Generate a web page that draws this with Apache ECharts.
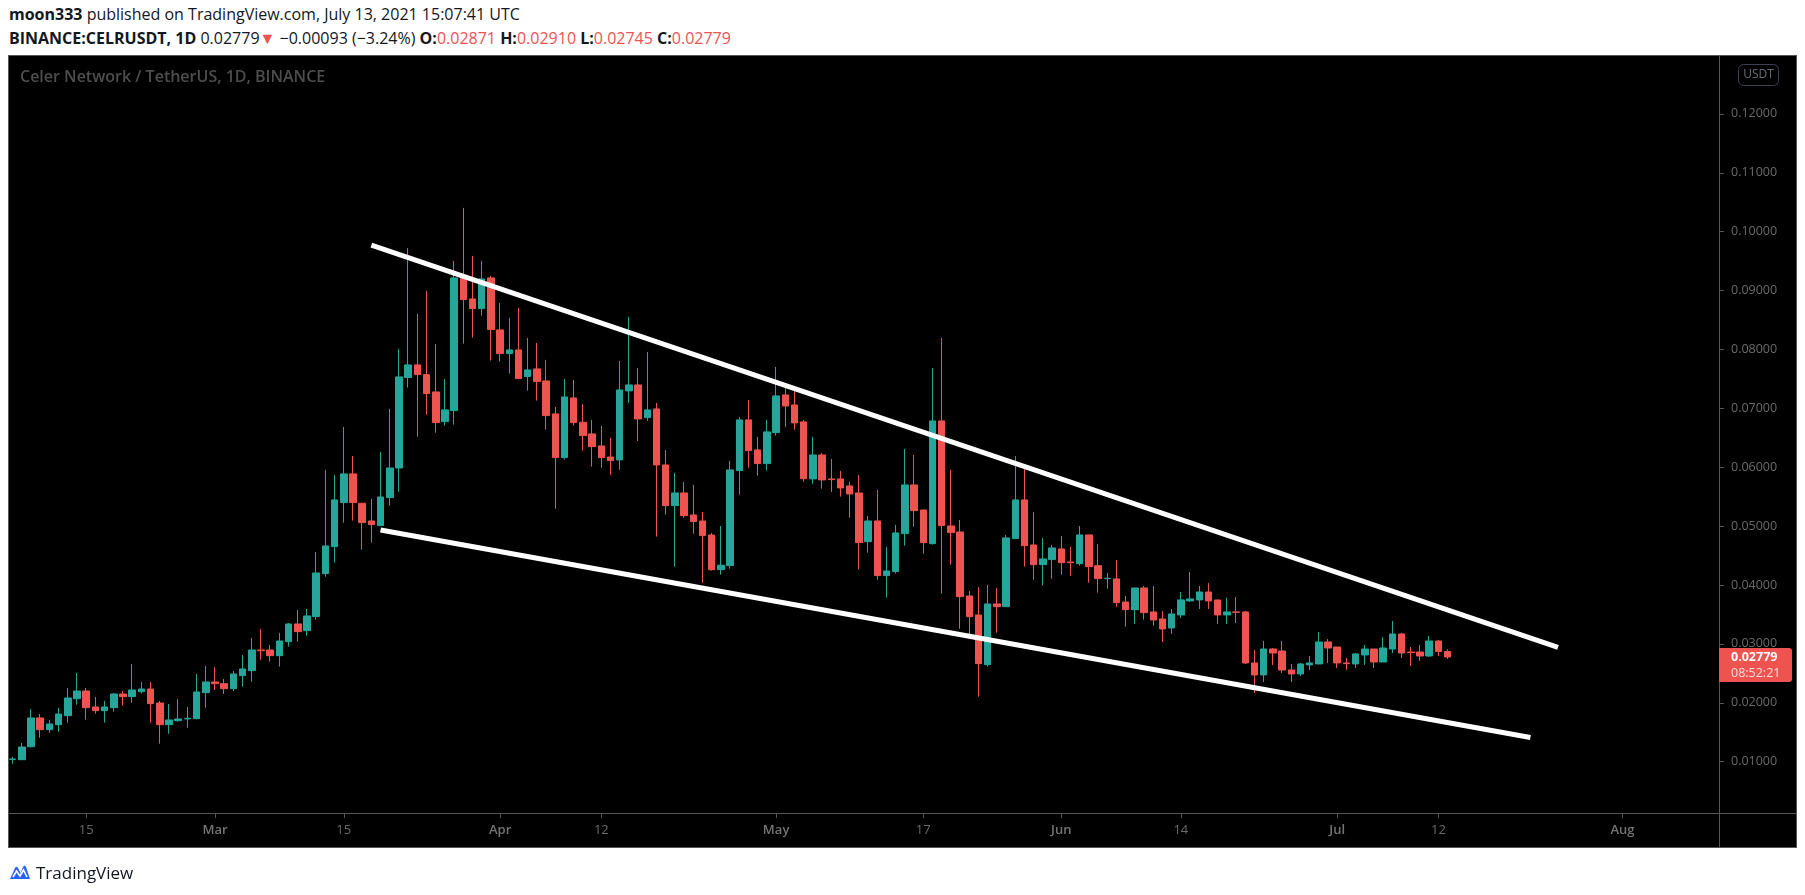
<!DOCTYPE html>
<html>
<head>
<meta charset="utf-8">
<script src="https://cdn.jsdelivr.net/npm/echarts@6/dist/echarts.min.js"></script>
<style>
  html,body{margin:0;padding:0;background:#fff;width:1805px;height:895px;overflow:hidden;}
  #panel{position:absolute;left:8px;top:55px;width:1789px;height:793px;background:#000;border:1px solid #555;box-sizing:border-box;}
  #vsep{position:absolute;left:1719px;top:55px;width:1px;height:793px;background:#555;}
  #hsep{position:absolute;left:8px;top:813px;width:1789px;height:1px;background:#555;}
  #chart{position:absolute;left:0;top:0;width:1805px;height:895px;}
  .hdr{position:absolute;left:9px;font-family:"Open Sans",sans-serif;font-size:16px;color:#131722;white-space:nowrap;line-height:20px;}
  .b{font-weight:700;}
  .r{color:#ef5350;}
  #foot{position:absolute;left:9px;top:861px;height:22px;display:flex;align-items:center;font-family:"Open Sans",sans-serif;font-size:17px;color:#131722;}
</style>
</head>
<body>
<div class="hdr" style="top:4px;"><span class="b">moon333</span> published on TradingView.com, July 13, 2021 15:07:41 UTC</div>
<div class="hdr" style="top:28px;"><span class="b">BINANCE:CELRUSDT, 1D</span> 0.02779<span class="r">▼</span> −0.00093 (−3.24%) <span class="b">O:</span><span class="r">0.02871</span> <span class="b">H:</span><span class="r">0.02910</span> <span class="b">L:</span><span class="r">0.02745</span> <span class="b">C:</span><span class="r">0.02779</span></div>
<div id="panel"></div>
<div id="vsep"></div>
<div id="hsep"></div>
<div id="chart"></div>
<div id="foot"><svg width="22" height="18" viewBox="0 0 22 18"><path d="M1 16 L6 5 Q7.5 2.5 9 5 L11.5 10 L14 4 Q15.5 1 17 4 L21 16 Z" fill="#2962ff"/><path d="M4 14 L7.5 8 L11 13 L14.5 7 L18 14" stroke="#fff" stroke-width="1.6" fill="none"/></svg><span style="margin-left:5px;">TradingView</span></div>
<script>
// ---- data ----
const startDate = '2021-02-07';
const dayCount = 186; // visible days on the time axis (Feb 7 .. Aug 11)
const tickDates = ['2021-02-15','2021-03-01','2021-03-15','2021-04-01','2021-04-12','2021-05-01','2021-05-17','2021-06-01','2021-06-14','2021-07-01','2021-07-12','2021-08-01'];
const tickLabels = ['15','Mar','15','Apr','12','May','17','Jun','14','Jul','12','Aug'];
const monthTicks = ['Mar','Apr','May','Jun','Jul','Aug'];
// daily candles from Feb 7, 2021: [open, high, low, close]
const ohlc = [
[0.01040,0.01081,0.00967,0.01046],[0.01034,0.01318,0.01030,0.01250],[0.01255,0.01895,0.01240,0.01743],[0.01743,0.01810,0.01408,0.01544],
[0.01544,0.01709,0.01493,0.01641],[0.01629,0.01912,0.01510,0.01810],[0.01782,0.02252,0.01663,0.02082],[0.02070,0.02507,0.01969,0.02201],
[0.02201,0.02252,0.01714,0.01918],[0.01929,0.02099,0.01816,0.01867],[0.01867,0.02031,0.01663,0.01929],[0.01918,0.02167,0.01850,0.02150],
[0.02150,0.02201,0.01952,0.02105],[0.02105,0.02660,0.02003,0.02218],[0.02189,0.02354,0.02156,0.02235],[0.02235,0.02354,0.01663,0.01986],
[0.01997,0.02031,0.01306,0.01629],[0.01629,0.01980,0.01476,0.01709],[0.01697,0.02065,0.01680,0.01726],[0.01726,0.01929,0.01578,0.01737],
[0.01731,0.02490,0.01720,0.02184],[0.02172,0.02626,0.01918,0.02354],
// Mar
[0.02354,0.02609,0.02218,0.02325],[0.02325,0.02405,0.02150,0.02240],[0.02240,0.02541,0.02201,0.02490],[0.02461,0.02812,0.02274,0.02575],
[0.02546,0.03101,0.02359,0.02897],[0.02897,0.03254,0.02733,0.02885],[0.02897,0.02982,0.02699,0.02801],[0.02801,0.03186,0.02614,0.03050],
[0.03039,0.03356,0.02954,0.03339],[0.03339,0.03577,0.03039,0.03209],[0.03225,0.03594,0.03140,0.03475],[0.03463,0.04562,0.03412,0.04205],
[0.04193,0.05955,0.04142,0.04664],[0.04652,0.05870,0.04380,0.05445],[0.05400,0.06685,0.05060,0.05887],[0.05887,0.06192,0.05094,0.05400],
[0.05389,0.05390,0.04601,0.05060],[0.05088,0.05462,0.04720,0.05026],[0.05009,0.06260,0.05000,0.05496],[0.05485,0.06990,0.05348,0.05988],
[0.05988,0.08010,0.05586,0.07534],[0.07523,0.09720,0.07353,0.07738],[0.07738,0.08604,0.06520,0.07573],[0.07573,0.08995,0.06894,0.07250],
[0.07279,0.08094,0.06588,0.06758],[0.06775,0.07500,0.06707,0.06974],[0.06962,0.09504,0.06724,0.09215],[0.09215,0.10404,0.08100,0.08847],
[0.08858,0.09589,0.08202,0.08694],[0.08694,0.09504,0.08575,0.09198],[0.09215,0.09249,0.07811,0.08337],
// Apr
[0.08332,0.08791,0.07794,0.07930],[0.07930,0.08536,0.07590,0.07992],[0.07992,0.08706,0.07500,0.07505],[0.07539,0.08196,0.07301,0.07653],
[0.07670,0.08111,0.07132,0.07454],[0.07466,0.07823,0.06639,0.06877],[0.06906,0.07025,0.05297,0.06164],[0.06164,0.07500,0.06130,0.07194],
[0.07177,0.07483,0.06707,0.06758],[0.06764,0.07075,0.06282,0.06537],[0.06566,0.06804,0.06011,0.06350],[0.06362,0.06702,0.05994,0.06164],
[0.06175,0.06498,0.05870,0.06113],[0.06124,0.07806,0.05955,0.07313],[0.07296,0.08553,0.07092,0.07398],[0.07398,0.07687,0.06447,0.06821],
[0.06843,0.07959,0.06787,0.06974],[0.06991,0.07092,0.04822,0.06039],[0.06039,0.06294,0.05195,0.05348],[0.05348,0.05904,0.04312,0.05564],
[0.05564,0.05751,0.05144,0.05178],[0.05190,0.05700,0.04873,0.05077],[0.05088,0.05241,0.04040,0.04839],[0.04850,0.04884,0.04244,0.04261],
[0.04261,0.05003,0.04176,0.04336],[0.04330,0.06107,0.04278,0.05955],[0.05944,0.06855,0.05535,0.06804],[0.06804,0.07143,0.05994,0.06282],
[0.06294,0.06515,0.05858,0.06062],[0.06062,0.06804,0.05944,0.06600],
// May
[0.06589,0.07704,0.06537,0.07211],[0.07228,0.07347,0.06685,0.07041],[0.07058,0.07347,0.06634,0.06753],[0.06770,0.06804,0.05756,0.05805],
[0.05802,0.06515,0.05722,0.06209],[0.06209,0.06243,0.05637,0.05785],[0.05802,0.06141,0.05581,0.05790],[0.05802,0.05937,0.05501,0.05649],
[0.05683,0.05751,0.05145,0.05547],[0.05564,0.05870,0.04262,0.04720],[0.04737,0.05173,0.04550,0.05088],[0.05088,0.05615,0.04092,0.04160],
[0.04160,0.04647,0.03786,0.04239],[0.04230,0.05020,0.04194,0.04885],[0.04873,0.06311,0.04669,0.05700],[0.05700,0.06209,0.04992,0.05263],
[0.05275,0.05275,0.04533,0.04720],[0.04703,0.07687,0.04686,0.06787],[0.06787,0.08196,0.03854,0.05009],[0.05003,0.05955,0.04346,0.04890],
[0.04901,0.05105,0.03259,0.03803],[0.03814,0.03900,0.03147,0.03463],[0.03492,0.03967,0.02104,0.02665],[0.02648,0.04001,0.02614,0.03679],
[0.03679,0.03950,0.03191,0.03633],[0.03633,0.04851,0.03633,0.04800],[0.04788,0.06192,0.04788,0.05445],[0.05445,0.05983,0.04312,0.04669],
[0.04680,0.05241,0.04092,0.04346],[0.04346,0.04800,0.03990,0.04443],[0.04432,0.04680,0.04109,0.04630],
// Jun
[0.04613,0.04834,0.04177,0.04380],[0.04392,0.04647,0.04160,0.04380],[0.04363,0.05003,0.04329,0.04851],[0.04851,0.04851,0.04040,0.04312],
[0.04329,0.04698,0.03871,0.04109],[0.04109,0.04205,0.03939,0.04115],[0.04104,0.04426,0.03633,0.03701],[0.03712,0.03815,0.03293,0.03582],
[0.03582,0.03950,0.03344,0.03950],[0.03950,0.03984,0.03412,0.03531],[0.03543,0.03984,0.03310,0.03407],[0.03424,0.03560,0.03033,0.03254],
[0.03271,0.03594,0.03169,0.03509],[0.03492,0.03882,0.03441,0.03747],[0.03730,0.04222,0.03713,0.03764],[0.03747,0.03984,0.03594,0.03882],
[0.03882,0.04035,0.03594,0.03730],[0.03747,0.03747,0.03339,0.03492],[0.03492,0.03781,0.03339,0.03543],[0.03543,0.03798,0.03356,0.03537],
[0.03543,0.03560,0.02660,0.02677],[0.02677,0.02897,0.02167,0.02473],[0.02473,0.03050,0.02354,0.02914],[0.02914,0.02931,0.02643,0.02846],
[0.02880,0.03050,0.02507,0.02558],[0.02558,0.02660,0.02354,0.02490],[0.02490,0.02677,0.02456,0.02660],[0.02643,0.02795,0.02558,0.02677],
[0.02660,0.03203,0.02660,0.03033],[0.03033,0.03084,0.02677,0.02931],
// Jul
[0.02948,0.02948,0.02592,0.02677],[0.02677,0.02762,0.02558,0.02666],[0.02660,0.02846,0.02592,0.02830],[0.02812,0.02982,0.02643,0.02914],
[0.02914,0.02914,0.02592,0.02694],[0.02694,0.03118,0.02694,0.02931],[0.02914,0.03390,0.02846,0.03169],[0.03169,0.03186,0.02762,0.02846],
[0.02863,0.02948,0.02626,0.02852],[0.02863,0.02982,0.02711,0.02795],[0.02795,0.03135,0.02779,0.03050],[0.03050,0.03067,0.02795,0.02872],
[0.02871,0.02910,0.02745,0.02779]
];
// hand-drawn trend lines: [date, price]
const upperTrend = [['2021-03-18',0.0977],['2021-07-25',0.0294]];
const lowerTrend = [['2021-03-19',0.04935],['2021-07-22',0.0141]];
const lastPrice = 0.02779;
const lastPriceText = '0.02779';
const countdownText = '08:52:21';
const yTickMin = 0, yTickMax = 0.13, yTickStep = 0.01;

// ---- build ----
const cats = [];
{
  const d0 = new Date(startDate + 'T00:00:00Z');
  for (let i = 0; i < dayCount; i++) {
    const d = new Date(d0.getTime() + i * 86400000);
    cats.push(d.toISOString().slice(0, 10));
  }
}
const labelOf = {};
tickDates.forEach((d, i) => labelOf[d] = tickLabels[i]);
const candleData = ohlc.map(r => [r[0], r[3], r[2], r[1]]);
const FONT = '"Open Sans", "Liberation Sans", sans-serif';
const AXIS_TXT = '#6a6a6a';

const chart = echarts.init(document.getElementById('chart'), null, {renderer: 'canvas'});
chart.setOption({
  animation: false,
  backgroundColor: 'transparent',
  grid: {left: 8, right: 86, top: 55, bottom: 74.4, containLabel: false},
  xAxis: {
    type: 'category', data: cats, boundaryGap: true, offset: -7.6,
    axisLine: {show: false},
    axisTick: {show: true, alignWithLabel: true, length: 5, lineStyle: {color: '#555'},
      interval: (i, v) => labelOf[v] !== undefined},
    axisLabel: {
      interval: (i, v) => labelOf[v] !== undefined,
      formatter: v => {
        const t = labelOf[v] || '';
        return monthTicks.includes(t) ? '{m|' + t + '}' : '{d|' + t + '}';
      },
      margin: 11,
      rich: {
        m: {color: '#747474', fontSize: 13, fontFamily: FONT, fontWeight: 600},
        d: {color: AXIS_TXT, fontSize: 13, fontFamily: FONT}
      }
    },
    splitLine: {show: false}
  },
  yAxis: {
    type: 'value', position: 'right', min: yTickMin, max: yTickMax, interval: yTickStep, scale: false,
    axisLine: {show: false},
    axisTick: {show: true, length: 5, lineStyle: {color: '#555'}},
    axisLabel: {show: true, margin: 12, color: AXIS_TXT, fontSize: 12.5, fontFamily: FONT,
      showMinLabel: false, showMaxLabel: false, formatter: v => v.toFixed(5)},
    splitLine: {show: false}
  },
  series: [
    {
      type: 'candlestick', data: candleData, barWidth: 7, z: 2,
      itemStyle: {color: '#26a69a', color0: '#ef5350', borderColor: '#26a69a', borderColor0: '#ef5350', borderWidth: 1}
    },
    {type: 'line', data: upperTrend, symbol: 'none', z: 5, lineStyle: {color: '#ffffff', width: 5}, silent: true},
    {type: 'line', data: lowerTrend, symbol: 'none', z: 5, lineStyle: {color: '#ffffff', width: 5}, silent: true}
  ]
});

const py = chart.convertToPixel({yAxisIndex: 0}, lastPrice);
chart.setOption({
  graphic: [
    {type: 'text', x: 20, y: 77, style: {text: 'Celer Network / TetherUS, 1D, BINANCE', fill: '#4d4d4d', font: '600 16px ' + FONT, align: 'left', verticalAlign: 'middle'}},
    {type: 'rect', shape: {x: 1738.5, y: 64.5, width: 40, height: 21, r: 5}, style: {fill: 'transparent', stroke: '#3c4150', lineWidth: 1}},
    {type: 'text', x: 1758.5, y: 75, style: {text: 'USDT', fill: '#6a6d78', font: '12px ' + FONT, align: 'center', verticalAlign: 'middle'}},
    {type: 'rect', shape: {x: 1719, y: py - 9, width: 73, height: 34, r: [0, 3, 3, 0]}, style: {fill: '#ef5350'}, z: 10},
    {type: 'text', x: 1731, y: py, z: 11, style: {text: lastPriceText, fill: '#ffffff', font: 'bold 12.5px ' + FONT, align: 'left', verticalAlign: 'middle'}},
    {type: 'text', x: 1731, y: py + 16, z: 11, style: {text: countdownText, fill: 'rgba(255,255,255,0.82)', font: '12.5px ' + FONT, align: 'left', verticalAlign: 'middle'}}
  ]
});
</script>
</body>
</html>
